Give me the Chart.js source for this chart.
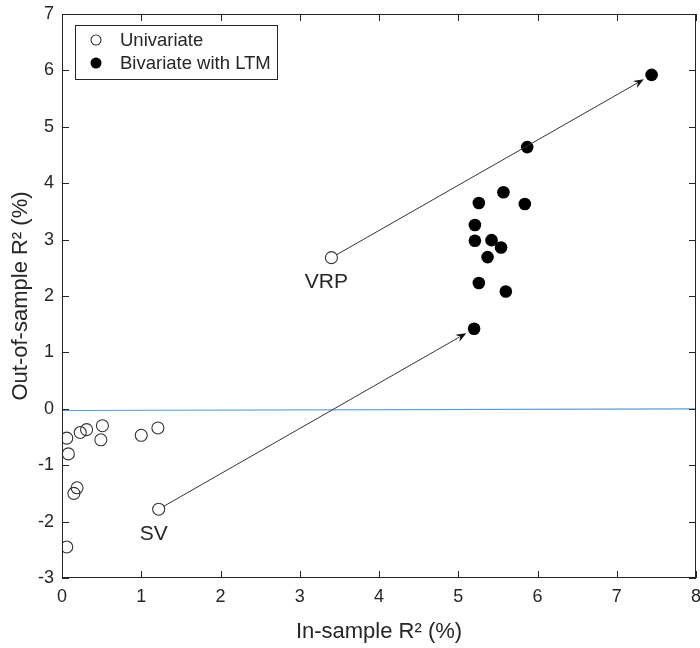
<!DOCTYPE html>
<html>
<head>
<meta charset="utf-8">
<script src="https://cdn.jsdelivr.net/npm/chart.js@4/dist/chart.umd.min.js"></script>
<style>
  html, body { margin: 0; padding: 0; background: #fff; }
  #wrap { width: 700px; height: 648px; }
</style>
</head>
<body>
<div id="wrap"><canvas id="chart" width="700" height="648"></canvas></div>
<script>
// Univariate (open circles)
const uniX = [0.06, 0.08, 0.23, 0.31, 0.51, 0.49, 0.19, 0.15, 0.06, 1.00, 1.21, 1.22, 3.40];
const uniY = [-0.52, -0.80, -0.42, -0.37, -0.30, -0.55, -1.40, -1.50, -2.45, -0.47, -0.34, -1.78, 2.68];

// Bivariate with LTM (filled circles)
const biX = [7.44, 5.87, 5.57, 5.26, 5.84, 5.21, 5.21, 5.42, 5.54, 5.37, 5.26, 5.60, 5.20];
const biY = [5.92, 4.64, 3.84, 3.65, 3.63, 3.26, 2.98, 2.99, 2.86, 2.69, 2.23, 2.08, 1.42];

// zero reference line
const zeroX = [0, 0.12, 8];
const zeroY = [-0.03, -0.03, 0];

// arrows: from univariate -> bivariate
const arrowLabels = ['VRP', 'SV'];
const arrowFrom = [[3.40, 2.68], [1.22, -1.78]];
const arrowTo = [[7.44, 5.92], [5.20, 1.42]];

const xTicks = [0, 1, 2, 3, 4, 5, 6, 7, 8];
const yTicks = [-3, -2, -1, 0, 1, 2, 3, 4, 5, 6, 7];

const FONT = '"Liberation Sans", Arial, sans-serif';
const TXT = '#262626';

const toPts = (xs, ys) => xs.map((x, i) => ({ x: x, y: ys[i] }));

// axes box, inward ticks, arrows, labels and legend
const decor = {
    id: 'decor',
    afterDatasetsDraw(chart) {
        const ctx = chart.ctx;
        const a = chart.chartArea;
        const xs = chart.scales.x, ys = chart.scales.y;
        ctx.save();

        // box
        ctx.strokeStyle = '#262626';
        ctx.lineWidth = 1;
        ctx.strokeRect(a.left + 0.5, a.top + 0.5, a.right - a.left - 1, a.bottom - a.top - 1);

        // inward ticks
        const tl = 7;
        ctx.beginPath();
        xTicks.forEach(v => {
            const px = Math.round(xs.getPixelForValue(v)) + 0.5;
            ctx.moveTo(px, a.bottom); ctx.lineTo(px, a.bottom - tl);
            ctx.moveTo(px, a.top); ctx.lineTo(px, a.top + tl);
        });
        yTicks.forEach(v => {
            const py = Math.round(ys.getPixelForValue(v)) + 0.5;
            ctx.moveTo(a.left, py); ctx.lineTo(a.left + tl, py);
            ctx.moveTo(a.right, py); ctx.lineTo(a.right - tl, py);
        });
        ctx.stroke();

        // arrows
        ctx.strokeStyle = '#333';
        ctx.lineWidth = 1;
        arrowFrom.forEach((f, i) => {
            const x0 = xs.getPixelForValue(f[0]), y0 = ys.getPixelForValue(f[1]);
            const x1 = xs.getPixelForValue(arrowTo[i][0]), y1 = ys.getPixelForValue(arrowTo[i][1]);
            const ang = Math.atan2(y1 - y0, x1 - x0);
            const sx = x0 + 6 * Math.cos(ang), sy = y0 + 6 * Math.sin(ang);
            const ex = x1 - 9 * Math.cos(ang), ey = y1 - 9 * Math.sin(ang);
            ctx.beginPath();
            ctx.moveTo(sx, sy); ctx.lineTo(ex - 8 * Math.cos(ang), ey - 8 * Math.sin(ang));
            ctx.stroke();
            const hl = 11, hw = 0.38;
            ctx.fillStyle = '#111';
            ctx.beginPath();
            ctx.moveTo(ex, ey);
            ctx.lineTo(ex - hl * Math.cos(ang - hw), ey - hl * Math.sin(ang - hw));
            ctx.lineTo(ex - 7 * Math.cos(ang), ey - 7 * Math.sin(ang));
            ctx.lineTo(ex - hl * Math.cos(ang + hw), ey - hl * Math.sin(ang + hw));
            ctx.closePath();
            ctx.fill();

            // label below the starting point
            ctx.fillStyle = TXT;
            ctx.font = '21px ' + FONT;
            ctx.textAlign = 'center';
            ctx.textBaseline = 'middle';
            ctx.fillText(arrowLabels[i], x0 - 5, y0 + 25);
        });

        // legend
        const lx = 75, ly = 25, lw = 202, lh = 54;
        ctx.fillStyle = '#fff';
        ctx.fillRect(lx, ly, lw, lh);
        ctx.strokeStyle = '#262626';
        ctx.strokeRect(lx + 0.5, ly + 0.5, lw, lh);
        ctx.font = '18.5px ' + FONT;
        ctx.textAlign = 'left';
        ctx.textBaseline = 'middle';
        chart.data.datasets.slice(0, 2).forEach((ds, i) => {
            const cy = ly + 15 + i * 23;
            ctx.beginPath();
            ctx.arc(96, cy, i === 0 ? 5 : 5.5, 0, Math.PI * 2);
            if (i === 0) {
                ctx.strokeStyle = '#333';
                ctx.lineWidth = 1.1;
                ctx.stroke();
            } else {
                ctx.fillStyle = '#000';
                ctx.fill();
            }
            ctx.fillStyle = TXT;
            ctx.fillText(ds.label, 120, cy + 1);
        });

        ctx.restore();
    }
};

new Chart(document.getElementById('chart'), {
    type: 'scatter',
    data: {
        datasets: [
            {
                label: 'Univariate',
                data: toPts(uniX, uniY),
                pointRadius: 6,
                pointBorderWidth: 1.1,
                pointBorderColor: '#333',
                pointBackgroundColor: 'rgba(255,255,255,0)',
                order: 1
            },
            {
                label: 'Bivariate with LTM',
                data: toPts(biX, biY),
                pointRadius: 6.3,
                pointBorderWidth: 0,
                pointBackgroundColor: '#000',
                order: 1
            },
            {
                label: 'zero',
                data: toPts(zeroX, zeroY),
                showLine: true,
                pointRadius: 0,
                borderColor: '#5b9bd5',
                borderWidth: 1.2,
                order: 2
            }
        ]
    },
    options: {
        responsive: false,
        animation: false,
        layout: { autoPadding: false, padding: { top: 14, right: 4, left: 0, bottom: 0 } },
        plugins: {
            legend: { display: false },
            tooltip: { enabled: false }
        },
        scales: {
            x: {
                type: 'linear',
                min: 0, max: 8,
                afterBuildTicks: s => { s.ticks = xTicks.map(v => ({ value: v })); },
                afterFit: s => { s.height = 70; s.paddingLeft = 0; s.paddingRight = 0; },
                grid: { display: false, drawTicks: false },
                border: { display: false },
                ticks: { color: TXT, font: { family: FONT, size: 18 }, padding: 8 },
                title: {
                    display: true,
                    text: 'In-sample R² (%)',
                    color: TXT,
                    font: { family: FONT, size: 22 },
                    padding: { top: 4, bottom: 3 }
                }
            },
            y: {
                type: 'linear',
                min: -3, max: 7,
                afterBuildTicks: s => { s.ticks = yTicks.map(v => ({ value: v })); },
                afterFit: s => { s.width = 62; s.paddingTop = 0; s.paddingBottom = 0; },
                grid: { display: false, drawTicks: false },
                border: { display: false },
                ticks: { color: TXT, font: { family: FONT, size: 18 }, padding: 8 },
                title: {
                    display: true,
                    text: 'Out-of-sample R² (%)',
                    color: TXT,
                    font: { family: FONT, size: 22 },
                    padding: { top: 8, bottom: 0 }
                }
            }
        }
    },
    plugins: [decor]
});
</script>
</body>
</html>
